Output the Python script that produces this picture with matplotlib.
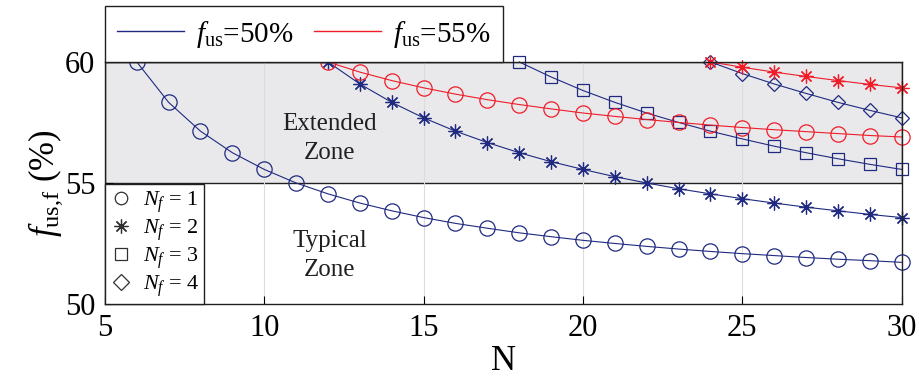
import numpy as np
import matplotlib
matplotlib.use("Agg")
import matplotlib.pyplot as plt
from matplotlib.lines import Line2D

plt.rcParams['font.family'] = ['Liberation Serif', 'DejaVu Serif']
plt.rcParams['mathtext.fontset'] = 'custom'
plt.rcParams['mathtext.rm'] = 'Liberation Serif'
plt.rcParams['mathtext.it'] = 'Liberation Serif:italic'

# f_us = 50 %
N_50_nf1 = list(range(6, 31))
f_50_nf1 = [60.00, 58.33, 57.14, 56.25, 55.56, 55.00, 54.55, 54.17, 53.85, 53.57,
            53.33, 53.13, 52.94, 52.78, 52.63, 52.50, 52.38, 52.27, 52.17, 52.08,
            52.00, 51.92, 51.85, 51.79, 51.72]
N_50_nf2 = list(range(12, 31))
f_50_nf2 = [60.00, 59.09, 58.33, 57.69, 57.14, 56.67, 56.25, 55.88, 55.56, 55.26,
            55.00, 54.76, 54.55, 54.35, 54.17, 54.00, 53.85, 53.70, 53.57]
N_50_nf3 = list(range(18, 31))
f_50_nf3 = [60.00, 59.38, 58.82, 58.33, 57.89, 57.50, 57.14, 56.82, 56.52, 56.25,
            56.00, 55.77, 55.56]
N_50_nf4 = list(range(24, 31))
f_50_nf4 = [60.00, 59.52, 59.09, 58.70, 58.33, 58.00, 57.69]

# f_us = 55 %
N_55_nf1 = list(range(12, 31))
f_55_nf1 = [60.00, 59.58, 59.23, 58.93, 58.67, 58.44, 58.24, 58.06, 57.89, 57.75,
            57.62, 57.50, 57.39, 57.29, 57.20, 57.12, 57.04, 56.96, 56.90]
N_55_nf2 = list(range(24, 31))
f_55_nf2 = [60.00, 59.78, 59.58, 59.40, 59.23, 59.07, 58.93]

blue = '#1f2a80'
red = '#f01c28'
asterisk = (8, 2, 0)

fig = plt.figure(figsize=(9.2, 3.87), dpi=100)
ax = fig.add_axes([0.114, 0.2145, 0.866, 0.6255])

ax.axhspan(55, 60, facecolor='#e9e9ec', edgecolor='#202020', lw=1.0, zorder=1)
ax.grid(axis='x', color='#dcdcdc', lw=0.8, zorder=0)

kw = dict(lw=0.8, mew=0.9, mfc='none', clip_on=False, zorder=3)
ax.plot(N_50_nf1, f_50_nf1, color=blue, marker='o', ms=11, **kw)
ax.plot(N_50_nf2, f_50_nf2, color=blue, marker=asterisk, ms=10, **kw)
ax.plot(N_50_nf3, f_50_nf3, color=blue, marker='s', ms=8, **kw)
ax.plot(N_50_nf4, f_50_nf4, color=blue, marker='D', ms=7.5, **kw)
ax.plot(N_55_nf1, f_55_nf1, color=red, marker='o', ms=11, **kw)
ax.plot(N_55_nf2, f_55_nf2, color=red, marker=asterisk, ms=10, **kw)

ax.set_xlim(5, 30)
ax.set_ylim(50, 60)
ax.set_xticks([5, 10, 15, 20, 25, 30])
ax.set_yticks([50, 55, 60])
ax.tick_params(direction='in', length=6, width=0.8, labelsize=22, pad=7,
               top=False, right=False)
for s in ax.spines.values():
    s.set_linewidth(1.0)
    s.set_color('#202020')
    s.set_zorder(4)

ax.set_xlabel('N', fontsize=25, labelpad=2)
ax.set_ylabel(r'$f_{\mathrm{us}{,}\mathrm{f}}$ (%)', fontsize=25, labelpad=0)

ax.text(12.05, 56.85, 'Extended\nZone', ha='center', va='center', fontsize=18,
        linespacing=1.4, color='#202020', zorder=2)
ax.text(12.05, 52.0, 'Typical\nZone', ha='center', va='center', fontsize=18,
        linespacing=1.4, color='#202020', zorder=2)

h1 = [Line2D([], [], color=blue, lw=1.0), Line2D([], [], color=red, lw=1.0)]
leg1 = ax.legend(h1, [r'$f_{\mathrm{us}}$=50%', r'$f_{\mathrm{us}}$=55%'],
                 loc='lower left', bbox_to_anchor=(0, 1), ncol=2,
                 borderaxespad=0, fontsize=21, handlelength=2.3,
                 columnspacing=0.7, handletextpad=0.4, borderpad=0.42,
                 fancybox=False, framealpha=1, edgecolor='#202020')
leg1.get_frame().set_linewidth(1.0)
ax.add_artist(leg1)

mk = '#303030'
h2 = [Line2D([], [], ls='none', marker='o', ms=9, mfc='none', mec=mk, mew=0.9),
      Line2D([], [], ls='none', marker=asterisk, ms=10, mec=mk, mew=0.9),
      Line2D([], [], ls='none', marker='s', ms=8, mfc='none', mec=mk, mew=0.9),
      Line2D([], [], ls='none', marker='D', ms=8, mfc='none', mec=mk, mew=0.9)]
labels2 = [r'$N_f$ = 1', r'$N_f$ = 2', r'$N_f$ = 3', r'$N_f$ = 4']
leg2 = ax.legend(h2, labels2, loc='lower left', bbox_to_anchor=(0, 0),
                 borderaxespad=0, fontsize=16, handlelength=1.0,
                 handletextpad=0.5, labelspacing=0.12, borderpad=0.22,
                 fancybox=False, framealpha=1, edgecolor='#202020')
leg2.get_frame().set_linewidth(1.0)
leg2.set_zorder(5)

fig.savefig('out.png', dpi=100)
